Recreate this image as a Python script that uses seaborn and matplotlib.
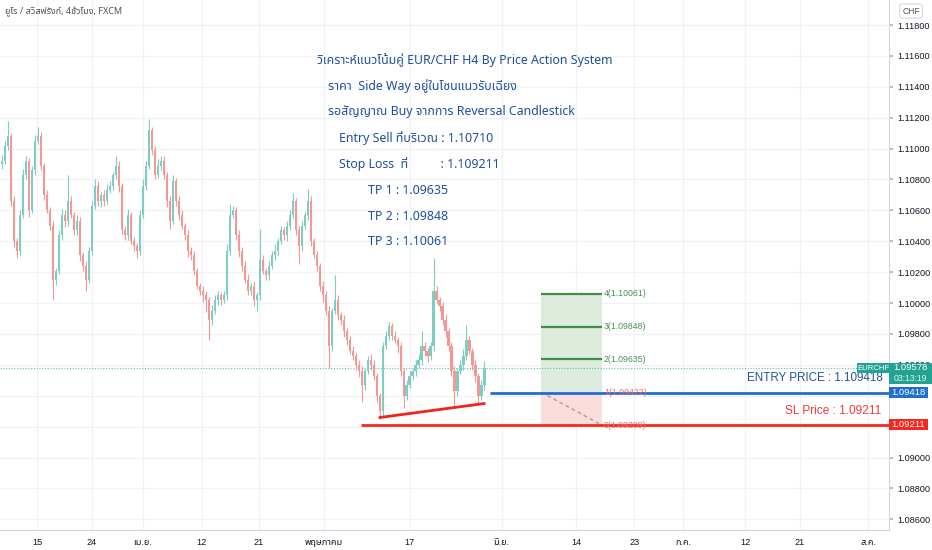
import matplotlib
matplotlib.use("Agg")
import numpy as np
import pandas as pd
import matplotlib.pyplot as plt
import seaborn as sns
from matplotlib import font_manager
from matplotlib.patches import Rectangle

# -----------------------------
# ข้อมูลแท่งเทียน EUR/CHF H4 (อ่านค่าจากภาพโดยประมาณ)
# -----------------------------
first_open = 1.1090
closes = [
    1.1092, 1.1102, 1.1108, 1.1066, 1.1040, 1.1034, 1.1057, 1.1083, 1.1092, 1.1060,
    1.1086, 1.1105, 1.1108, 1.1089, 1.1070, 1.1060, 1.1050, 1.1015, 1.1021, 1.1044,
    1.1057, 1.1053, 1.1066, 1.1057, 1.1047, 1.1053, 1.1031, 1.1024, 1.1015, 1.1034,
    1.1063, 1.1076, 1.1066, 1.1070, 1.1066, 1.1073, 1.1076, 1.1083, 1.1089, 1.1076,
    1.1047, 1.1044, 1.1057, 1.1040, 1.1037, 1.1034, 1.1057, 1.1076, 1.1089, 1.1112,
    1.1099, 1.1083, 1.1089, 1.1092, 1.1083, 1.1066, 1.1053, 1.1079, 1.1066, 1.1057,
    1.1050, 1.1044, 1.1034, 1.1031, 1.1021, 1.1011, 1.1008, 1.1005, 1.1002, 1.0989,
    1.0995, 1.1002, 1.1005, 1.1002, 1.1005, 1.1034, 1.1057, 1.1060, 1.1044, 1.1034,
    1.1024, 1.1015, 1.1008, 1.1011, 1.1002, 1.1005, 1.1028, 1.1021, 1.1018, 1.1024,
    1.1031, 1.1034, 1.1040, 1.1047, 1.1044, 1.1050, 1.1057, 1.1066, 1.1047, 1.1037,
    1.1050, 1.1057, 1.1066, 1.1040, 1.1031, 1.1024, 1.1011, 1.1005, 1.0995, 1.0972,
    1.0995, 1.1002, 1.0992, 1.0989, 1.0982, 1.0976, 1.0969, 1.0966, 1.0960, 1.0956,
    1.0947, 1.0956, 1.0963, 1.0960, 1.0953, 1.0940, 1.0930, 1.0972, 1.0979, 1.0985,
    1.0979, 1.0976, 1.0972, 1.0956, 1.0940, 1.0947, 1.0953, 1.0956, 1.0960, 1.0963,
    1.0972, 1.0969, 1.0966, 1.0972, 1.1008, 1.1002, 1.0998, 1.0989, 1.0982, 1.0972,
    1.0956, 1.0943, 1.0956, 1.0960, 1.0966, 1.0976, 1.0969, 1.0960, 1.0953, 1.0940,
    1.0947, 1.09578,
]
# ไส้เทียนบน / ล่าง (pips)
wick_up = [
    4, 3, 10, 2, 3, 2, 3, 4, 3, 2, 3, 4, 6, 3, 2, 3, 2, 3,
    2, 3, 4, 3, 17, 3, 2, 4, 3, 2, 3, 2, 3, 4, 3, 2, 3, 4,
    3, 2, 6, 3, 2, 3, 4, 2, 3, 2, 3, 4, 3, 7, 2, 3, 4, 3,
    3, 2, 3, 4, 2, 3, 3, 2, 3, 2, 3, 2, 2, 3, 3, 2, 4, 3,
    3, 2, 3, 4, 7, 3, 2, 3, 2, 3, 4, 2, 3, 2, 20, 3, 2, 3,
    3, 4, 2, 3, 2, 3, 3, 5, 2, 3, 3, 2, 8, 3, 2, 3, 2, 3,
    3, 3, 2, 16, 3, 2, 3, 2, 3, 3, 2, 3, 3, 2, 3, 4, 3, 2,
    2, 3, 3, 3, 2, 3, 2, 3, 2, 3, 3, 2, 3, 4, 10, 3, 2, 3,
    21, 3, 2, 3, 4, 2, 3, 3, 2, 3, 4, 10, 3, 2, 3, 2, 3, 5,
]
wick_dn = [
    3, 2, 3, 3, 4, 5, 3, 2, 3, 4, 2, 3, 2, 3, 3, 2, 3, 13,
    3, 2, 3, 4, 3, 2, 3, 3, 4, 3, 7, 2, 3, 2, 3, 4, 3, 2,
    2, 3, 3, 4, 2, 3, 3, 2, 3, 5, 3, 2, 3, 2, 3, 3, 2, 3,
    3, 4, 5, 2, 3, 3, 2, 3, 4, 3, 3, 2, 3, 4, 8, 13, 3, 2,
    3, 3, 2, 3, 3, 2, 3, 4, 3, 2, 3, 3, 4, 7, 3, 2, 3, 3,
    2, 3, 3, 2, 3, 4, 3, 2, 3, 12, 3, 2, 3, 3, 2, 3, 3, 4,
    3, 14, 3, 2, 3, 3, 4, 3, 2, 3, 3, 4, 11, 3, 2, 3, 3, 4,
    5, 3, 2, 3, 3, 2, 4, 3, 8, 3, 2, 3, 3, 2, 3, 3, 4, 3,
    3, 2, 3, 3, 4, 3, 3, 10, 3, 2, 3, 3, 2, 3, 4, 5, 3, 3,
]

# แกนเวลา (ตำแหน่งเป็นหน่วยแท่ง)
tick_pos = [11.7, 30.0, 47.0, 66.7, 85.7, 107.3, 136.0, 166.7, 191.7, 211.0, 227.3, 248.0, 266.3, 289.0]
tick_labels = ["15", "24", "เม.ย.", "12", "21", "พฤษภาคม", "17", "มิ.ย.", "14", "23", "ก.ค.", "12", "21", "ส.ค."]
price_ticks = [1.086, 1.088, 1.090, 1.092, 1.094, 1.096, 1.098, 1.100, 1.102,
               1.104, 1.106, 1.108, 1.110, 1.112, 1.114, 1.116, 1.118]
hidden_ticks = [1.092, 1.094]  # อยู่ใต้ป้ายราคา

# ระดับราคาของแผนเทรด
last_price = 1.09578
entry_price = 1.09418
sl_price = 1.09211
rr_levels = [1.09209, 1.09422, 1.09635, 1.09848, 1.10061]
rr_labels = ["0(1.09209)", "1(1.09422)", "2(1.09635)", "3(1.09848)", "4(1.10061)"]
trend_bars = [126, 161]
trend_prices = [1.09259, 1.09350]

notes = [
    "วิเคราะห์แนวโน้มคู่ EUR/CHF H4 By Price Action System",
    "ราคา  Side Way อยู่ในโซนแนวรับเฉียง",
    "รอสัญญาณ Buy จากการ Reversal Candlestick",
    "Entry Sell ที่บริเวณ : 1.10710",
    "Stop Loss  ที่          : 1.109211",
    "TP 1 : 1.09635",
    "TP 2 : 1.09848",
    "TP 3 : 1.10061",
]
note_x = [317, 328, 328, 339, 339, 368, 368, 368]


def find_thai_font():
    try:
        from fontTools.ttLib import TTFont
    except Exception:
        return None
    found = []
    for f in font_manager.fontManager.ttflist:
        try:
            tt = TTFont(f.fname, fontNumber=0, lazy=True)
            cmap = tt.getBestCmap()
            if cmap and 0x0E27 in cmap and 0x0E34 in cmap:
                found.append(f.name)
        except Exception:
            pass
    for pref in ["Noto Sans Thai", "Noto Sans Thai UI", "Tahoma", "Loma", "Garuda", "Sarabun"]:
        if pref in found:
            return pref
    return found[0] if found else None


def first_font(names):
    for n in names:
        try:
            font_manager.findfont(n, fallback_to_default=False)
            return n
        except Exception:
            pass
    return "DejaVu Sans"


sns.set_theme(style="white")
thai = find_thai_font()
fams = ([thai] if thai else []) + ["DejaVu Sans"]
plt.rcParams["font.family"] = fams
narrow = first_font(["Liberation Sans Narrow", "Liberation Sans", "DejaVu Sans"])
latin = first_font(["Liberation Sans", "DejaVu Sans"])

W, H = 932, 550
fig = plt.figure(figsize=(W / 100, H / 100), dpi=100)
ax = fig.add_axes([0, 20 / H, 889 / W, 530 / H])

df = pd.DataFrame({"close": closes})
df["open"] = [first_open] + closes[:-1]
df["high"] = df[["open", "close"]].max(axis=1) + np.array(wick_up) * 0.0001
df["low"] = df[["open", "close"]].min(axis=1) - np.array(wick_dn) * 0.0001
df["bar"] = np.arange(len(df))
df["dir"] = np.where(df["close"] >= df["open"], "up", "down")

bull, bear = "#7dcdc2", "#f59894"
cols = df["dir"].map({"up": bull, "down": bear})
ax.vlines(df["bar"], df["low"], df["high"], colors=cols, lw=0.8, zorder=3)
body_lo = df[["open", "close"]].min(axis=1)
body_h = (df["close"] - df["open"]).abs().clip(lower=0.00004)
ax.bar(df["bar"], body_h, bottom=body_lo, width=0.7, color=cols, linewidth=0, zorder=3)

# เส้นราคาปัจจุบัน
ax.axhline(last_price, color="#5fbfb3", lw=0.8, ls=(0, (1, 1.5)), zorder=2)

# เส้นแนวรับเฉียง
tl = pd.DataFrame({"bar": trend_bars, "price": trend_prices})
sns.lineplot(data=tl, x="bar", y="price", color="#f2231d", lw=2.0, ax=ax, zorder=5)

# เส้น Entry / SL
ax.plot([162.7, 297], [entry_price, entry_price], color="#1e6fd0", lw=2.0, zorder=5, solid_capstyle="butt")
ax.plot([119.7, 297], [sl_price, sl_price], color="#f5281f", lw=2.0, zorder=5, solid_capstyle="butt")

# เครื่องมือ Risk/Reward
bx0, bx1 = 180.0, 200.3
ax.add_patch(Rectangle((bx0, rr_levels[1]), bx1 - bx0, rr_levels[4] - rr_levels[1],
                       facecolor="#dcebdc", edgecolor="none", zorder=1))
ax.add_patch(Rectangle((bx0, rr_levels[0]), bx1 - bx0, rr_levels[1] - rr_levels[0],
                       facecolor="#fbdcdc", edgecolor="none", zorder=1))
for lv in rr_levels[2:]:
    ax.plot([bx0, bx1], [lv, lv], color="#3e8e44", lw=1.6, zorder=4, solid_capstyle="butt")
ax.plot([bx0, bx1], [rr_levels[1], rr_levels[0]], color="#9a9a9a", lw=0.9, ls=(0, (3, 2.5)), zorder=4)
for lv, lab in zip(rr_levels, rr_labels):
    c = "#4c8f50" if lv > entry_price + 0.0001 else "#f26b63"
    ax.text(bx1 + 0.6, lv, lab, fontsize=6.3, color=c, va="center", ha="left",
            family=latin, zorder=6)

# แกน
ax.set_xlim(-0.67, 296.0)
ax.set_ylim(1.08531, 1.11962)
ax.set_xticks(tick_pos)
ax.set_xticklabels(tick_labels)
ax.set_yticks(price_ticks)
ax.set_yticklabels(["" if p in hidden_ticks else f"{p:.5f}" for p in price_ticks],
                   family=narrow)
ax.yaxis.tick_right()
ax.tick_params(axis="y", length=3, color="#b2b5be", labelsize=6.6, labelcolor="#131722", pad=3)
ax.tick_params(axis="x", length=0, labelsize=6.6, labelcolor="#131722", pad=6)
for lab in ax.get_xticklabels():
    if lab.get_text().isdigit():
        lab.set_family(narrow)
ax.grid(True, color="#f0f2f6", lw=0.9)
ax.set_axisbelow(True)
for s in ["top", "left"]:
    ax.spines[s].set_visible(False)
for s in ["right", "bottom"]:
    ax.spines[s].set_color("#d1d4dc")
    ax.spines[s].set_linewidth(0.8)
ax.set_xlabel("")
ax.set_ylabel("")


def fx(px):
    return px / W


def fy(py):
    return 1 - py / H


# หัวกราฟ
fig.text(fx(5), fy(12), "ยูโร / สวิสฟรังก์, 4ชั่วโมง, FXCM", fontsize=6.5,
         color="#50535e", va="center", ha="left")
fig.text(fx(911), fy(11), "CHF", fontsize=6.2, color="#50535e", va="center", ha="center",
         family=latin, bbox=dict(boxstyle="round,pad=0.3", fc="white", ec="#d1d4dc", lw=0.7))

# ข้อความวิเคราะห์
for i, (t, x) in enumerate(zip(notes, note_x)):
    fig.text(fx(x), fy(60 + 26 * i), t, fontsize=8.9, color="#1f4f9e", va="center", ha="left")

fig.text(fx(883), fy(378), "ENTRY PRICE : 1.109418", fontsize=8.4, color="#2453a3",
         va="center", ha="right", family=latin)
fig.text(fx(881), fy(411), "SL Price : 1.09211", fontsize=8.6, color="#f23a35",
         va="center", ha="right", family=latin)

# ป้ายราคาบนแกนขวา
fig.patches.append(Rectangle((fx(857), fy(373)), fx(32), 10 / H, transform=fig.transFigure,
                             facecolor="#22a393", edgecolor="none", zorder=5))
fig.text(fx(873), fy(368), "EURCHF", fontsize=5.6, color="white", va="center", ha="center",
         zorder=6, family=narrow)
fig.patches.append(Rectangle((fx(889), fy(384)), fx(43), 21 / H, transform=fig.transFigure,
                             facecolor="#22a393", edgecolor="none", zorder=5))
fig.text(fx(910), fy(368), "1.09578", fontsize=6.8, color="white", va="center", ha="center",
         zorder=6, family=narrow)
fig.text(fx(910), fy(378.5), "03:13:19", fontsize=6.2, color="#e0f3ef", va="center", ha="center",
         zorder=6, family=narrow)
fig.patches.append(Rectangle((fx(889), fy(398)), fx(39), 11 / H, transform=fig.transFigure,
                             facecolor="#1e6fd0", edgecolor="none", zorder=5))
fig.text(fx(908), fy(392.5), "1.09418", fontsize=6.8, color="white", va="center", ha="center",
         zorder=6, family=narrow)
fig.patches.append(Rectangle((fx(889), fy(430)), fx(39), 11 / H, transform=fig.transFigure,
                             facecolor="#f5281f", edgecolor="none", zorder=5))
fig.text(fx(908), fy(424.5), "1.09211", fontsize=6.8, color="white", va="center", ha="center",
         zorder=6, family=narrow)

fig.savefig("out.png", dpi=100, facecolor="white")
